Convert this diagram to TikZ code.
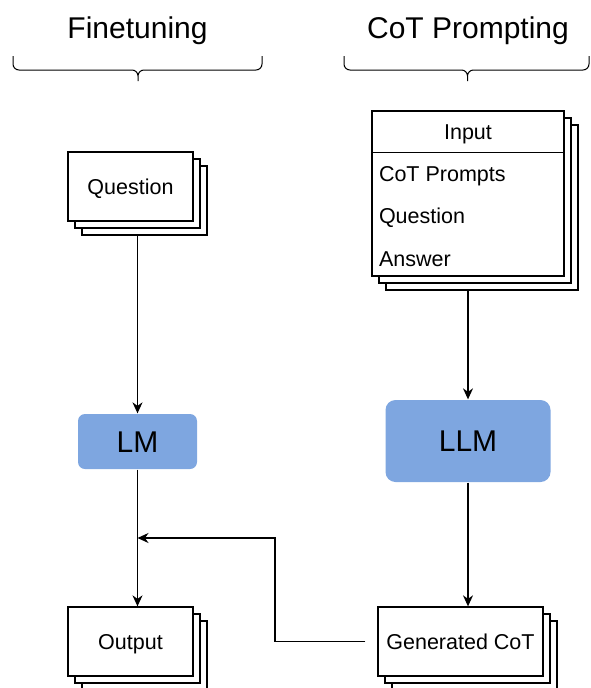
\documentclass[tikz,border=0pt]{standalone}
\usepackage{fontspec}
\setmainfont{Liberation Sans}
\usetikzlibrary{arrows.meta,shadows}
\definecolor{lmblue}{HTML}{7EA6E0}

\begin{document}
\begin{tikzpicture}[x=1pt,y=-1pt,->,>={Stealth[length=11pt,width=10pt,inset=3.5pt]},line width=1.3pt,
  stack/.style={draw,fill=white,
    copy shadow={shadow xshift=14pt,shadow yshift=-14pt,draw=black,fill=white},
    copy shadow={shadow xshift=7pt,shadow yshift=-7pt,draw=black,fill=white},
    font=\fontsize{21.5}{26}\selectfont,text height=17pt,text depth=1.6pt,inner sep=0pt},
  model/.style={fill=lmblue,rounded corners=7pt,font=\fontsize{30}{36}\selectfont,text height=24pt,text depth=2.5pt,inner sep=0pt},
  title/.style={font=\fontsize{30}{36}\selectfont,text height=24pt,text depth=2.5pt},
  row/.style={font=\fontsize{21.5}{26}\selectfont,text height=17pt,text depth=1.6pt,minimum height=41pt,inner xsep=7pt,inner ysep=0pt}]

  \useasboundingbox (0,0) rectangle (590,688);

  \node[title] (ft) at (137.5,28) {Finetuning};
  \node[title] (cp) at (468,28) {CoT Prompting};
  \draw[-,line width=1pt,rounded corners=6pt] (13,56) |- (138,70) -- (138,81) (262,56) |- (138,70) -- (138,81);
  \draw[-,line width=1pt,rounded corners=6pt] (344,56) |- (467.5,70) -- (467.5,81) (589,56) |- (467.5,70) -- (467.5,81);

  \node[stack,minimum width=125pt,minimum height=69pt] (q) at (130.5,186.5) {Question};
  \node[stack,minimum width=192pt,minimum height=165pt] (inp) at (468,193.5) {};
  \node[row,anchor=north] (inhead) at (inp.north) {Input};
  \draw[-] (inhead.south -| inp.west) -- (inhead.south -| inp.east);
  \node[row,anchor=north west] (cot) at (inhead.south -| inp.west) {CoT Prompts};
  \node[row,anchor=north west] (qst) at (cot.south west) {Question};
  \node[row,anchor=north west] (ans) at (qst.south west) {Answer};

  \node[model,minimum width=119pt,minimum height=55pt] (lm) at (137.5,441.5) {LM};
  \node[model,minimum width=165pt,minimum height=82pt,rounded corners=10pt] (llm) at (468,441) {LLM};

  \node[stack,minimum width=125pt,minimum height=69pt] (out) at (130.5,641.5) {Output};
  \node[stack,minimum width=165pt,minimum height=69pt] (gen) at (460.5,641.5) {Generated CoT};
  \coordinate (back) at (137.5,538);

  \draw ([xshift=7pt,yshift=-14pt]q.south) -- (lm.north);
  \draw ([yshift=-14pt]inp.south) -- (llm.north);
  \draw (lm.south) -- (lm.south |- out.north);
  \draw (llm.south) -- (llm.south |- gen.north);
  \draw ([xshift=-12pt]gen.west) -- ++(-90.5,0) |- (back);
\end{tikzpicture}
\end{document}
